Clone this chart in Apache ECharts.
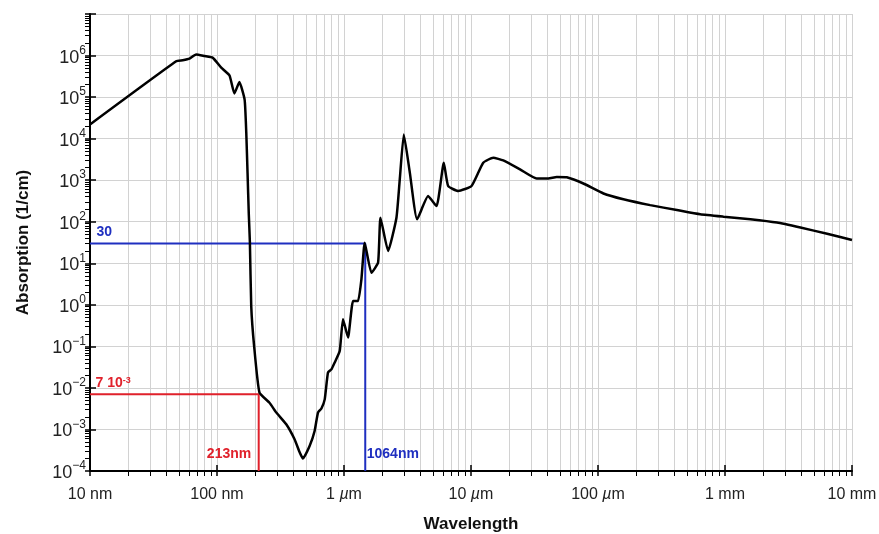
<!DOCTYPE html>
<html><head><meta charset="utf-8">
<script src="https://cdn.jsdelivr.net/npm/echarts@6/dist/echarts.min.js"></script>
<style>html,body{margin:0;padding:0;background:#fff}#c{width:879px;height:534px}</style>
</head><body><div id="c"></div>
<script>
// Wavelength in nm
const wavelengthNm = [10, 47.7, 53.7, 60.7, 68.5, 79.7, 92.7, 108, 125.5, 137, 150, 165, 170, 174, 178, 181.5, 186, 196, 216, 259, 293, 351, 408, 448, 475, 536, 587, 624, 664, 705, 748, 796, 845, 925, 982, 1076, 1178, 1289, 1371, 1456, 1644, 1855, 1937, 2224, 2588, 2749, 2957, 3300, 3765, 4595, 5353, 6107, 6606, 7925, 10100, 12480, 14960, 17950, 24320, 32890, 40640, 47320, 56750, 76700, 110400, 158500, 257600, 418000, 638000, 975000, 1585000, 2570000, 3926000, 6370000, 10000000];
// Absorption in 1/cm
const absorption = [2.2e4, 7.3e5, 7.7e5, 8.4e5, 1.06e6, 9.7e5, 8.8e5, 5.1e5, 3.3e5, 1.22e5, 2.3e5, 8.7e4, 1.4e4, 1.5e3, 150, 33, 0.93, 0.102, 7.7e-3, 4.4e-3, 2.55e-3, 1.33e-3, 5.8e-4, 2.8e-4, 2.0e-4, 4.0e-4, 9.2e-4, 2.55e-3, 3.2e-3, 5.3e-3, 0.0234, 0.028, 0.041, 0.077, 0.45, 0.163, 1.23, 1.23, 4.1, 31, 5.9, 10.4, 125, 19.7, 125, 1050, 1.26e4, 1500, 114, 414, 238, 2630, 724, 550, 724, 2630, 3470, 2990, 1820, 1100, 1100, 1200, 1175, 832, 479, 347, 251, 191, 151, 132, 115, 95.5, 72.4, 51.3, 36.3];

const xTickLabels = ['10 nm', '100 nm', '1 {i|µ}m', '10 {i|µ}m', '100 {i|µ}m', '1 mm', '10 mm'];
const xName = 'Wavelength';
const yName = 'Absorption (1/cm)';

// Annotation values
const blueX = [10, 1470, 1470];
const blueY = [30, 30, 1e-4];
const redX = [10, 213, 213];
const redY = [7e-3, 7e-3, 1e-4];
const blueLabels = ['30', '1064nm'];
const redLabels = ['7 10{s|-3}', '213nm'];

const BLUE = '#1f2fc0';
const RED = '#e0212b';
const GRID = '#d2d2d2';

const chart = echarts.init(document.getElementById('c'), null, {renderer: 'canvas'});

function supExp(v) {
  const e = Math.round(Math.log10(v));
  if (e === 7) return '';
  return '{b|10}{s|' + String(e).replace('-', '\u2212') + '}';
}

const baseX = {
  type: 'log', logBase: 10, min: 10, max: 1e7, interval: 1, gridIndex: 0
};
const baseY = {
  type: 'log', logBase: 10, min: 1e-4, max: 1e7, interval: 1, gridIndex: 0
};

const option = {
  backgroundColor: '#fff',
  animation: false,
  grid: {left: 90, right: 27, top: 14, bottom: 63, containLabel: false, outerBoundsMode: 'none'},
  xAxis: [
    Object.assign({}, baseX, {
      position: 'bottom',
      name: xName, nameLocation: 'middle', nameGap: 45,
      nameTextStyle: {fontFamily: 'Liberation Sans', fontWeight: 'bold', fontSize: 17, color: '#111'},
      axisLine: {show: true, lineStyle: {color: '#000', width: 2}},
      axisTick: {show: true, inside: false, length: 5, lineStyle: {color: '#000', width: 1.5}},
      minorTick: {show: true, splitNumber: 9, length: 5, lineStyle: {color: '#000', width: 1}},
      splitLine: {show: true, lineStyle: {color: GRID, width: 1}},
      minorSplitLine: {show: true, lineStyle: {color: GRID, width: 1}},
      axisLabel: {
        margin: 16, fontFamily: 'Liberation Sans', fontSize: 16, color: '#222',
        formatter: function (v) { return xTickLabels[Math.round(Math.log10(v)) - 1]; },
        rich: {i: {fontStyle: 'italic', fontFamily: 'Liberation Sans', fontSize: 16, color: '#222'}}
      }
    }),
    Object.assign({}, baseX, {
      position: 'bottom', offset: 0,
      axisLine: {show: false},
      axisTick: {show: true, inside: true, length: 6, lineStyle: {color: '#000', width: 1.5}},
      axisLabel: {show: false}, splitLine: {show: false}
    })
  ],
  yAxis: [
    Object.assign({}, baseY, {
      position: 'left',
      name: yName, nameLocation: 'middle', nameGap: 58, nameRotate: 90,
      nameTextStyle: {fontFamily: 'Liberation Sans', fontWeight: 'bold', fontSize: 17, color: '#111'},
      axisLine: {show: true, lineStyle: {color: '#000', width: 2}},
      axisTick: {show: true, inside: false, length: 5, lineStyle: {color: '#000', width: 1.5}},
      minorTick: {show: true, splitNumber: 9, length: 5, lineStyle: {color: '#000', width: 1}},
      splitLine: {show: true, lineStyle: {color: GRID, width: 1}},
      axisLabel: {
        margin: 4, color: '#222',
        formatter: supExp,
        rich: {
          b: {fontFamily: 'Liberation Sans', fontSize: 18, color: '#222', lineHeight: 22, verticalAlign: 'bottom'},
          s: {fontFamily: 'Liberation Sans', fontSize: 12, color: '#222', lineHeight: 12, verticalAlign: 'top'}
        }
      }
    }),
    Object.assign({}, baseY, {
      position: 'left', offset: 0,
      axisLine: {show: false},
      axisTick: {show: true, inside: true, length: 6, lineStyle: {color: '#000', width: 1.5}},
      axisLabel: {show: false}, splitLine: {show: false}
    })
  ],
  series: [
    {
      type: 'line', name: 'red', xAxisIndex: 0, yAxisIndex: 0,
      data: redX.map((x, i) => [x, redY[i]]),
      symbol: 'none', lineStyle: {color: RED, width: 2}, z: 3, silent: true,
      markPoint: {
        symbol: 'circle', symbolSize: 1, itemStyle: {color: 'rgba(0,0,0,0)'}, silent: true,
        data: [
          {coord: [redX[0], redY[0]], label: {show: true, formatter: redLabels[0], position: [6, -11], align: 'left', verticalAlign: 'middle',
            fontFamily: 'Liberation Sans', fontWeight: 'bold', fontSize: 14, color: RED,
            rich: {s: {fontFamily: 'Liberation Sans', fontWeight: 'bold', fontSize: 9, color: RED, verticalAlign: 'top', lineHeight: 9}}}},
          {coord: [redX[2], redY[2]], label: {show: true, formatter: redLabels[1], position: [-7, -16], align: 'right', verticalAlign: 'middle',
            fontFamily: 'Liberation Sans', fontWeight: 'bold', fontSize: 14, color: RED}}
        ]
      }
    },
    {
      type: 'line', name: 'blue', xAxisIndex: 0, yAxisIndex: 0,
      data: blueX.map((x, i) => [x, blueY[i]]),
      symbol: 'none', lineStyle: {color: BLUE, width: 2}, z: 3, silent: true,
      markPoint: {
        symbol: 'circle', symbolSize: 1, itemStyle: {color: 'rgba(0,0,0,0)'}, silent: true,
        data: [
          {coord: [blueX[0], blueY[0]], label: {show: true, formatter: blueLabels[0], position: [7, -11], align: 'left', verticalAlign: 'middle',
            fontFamily: 'Liberation Sans', fontWeight: 'bold', fontSize: 14, color: BLUE}},
          {coord: [blueX[2], blueY[2]], label: {show: true, formatter: blueLabels[1], position: [2, -16], align: 'left', verticalAlign: 'middle',
            fontFamily: 'Liberation Sans', fontWeight: 'bold', fontSize: 14, color: BLUE}}
        ]
      }
    },
    {
      type: 'line', name: 'absorption', xAxisIndex: 0, yAxisIndex: 0,
      data: wavelengthNm.map((x, i) => [x, absorption[i]]),
      symbol: 'none', smooth: 0.15, lineStyle: {color: '#000', width: 2.5}, z: 4, silent: true
    }
  ]
};
chart.setOption(option);
</script>
</body></html>
